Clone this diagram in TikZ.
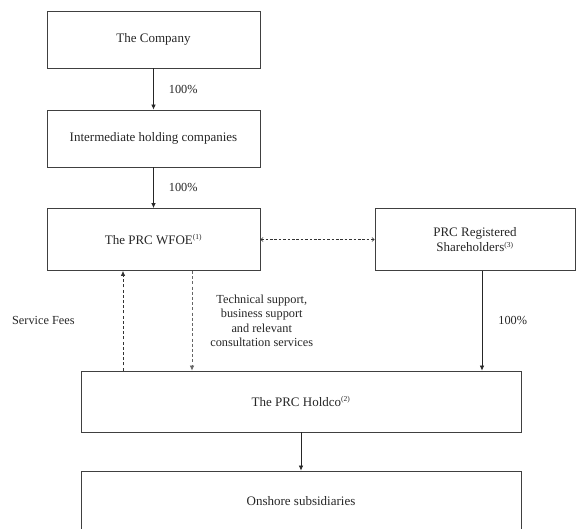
\documentclass[tikz,border=0pt]{standalone}
\usepackage{fontspec}
\setmainfont{Liberation Serif}
\usetikzlibrary{arrows.meta}
\tikzset{
	entity/.style={draw=black!75, line width=0.8pt, inner sep=0pt, text=black!85, align=center,
		font=\fontsize{13}{15}\selectfont},
	own/.style={draw=black!85, line width=0.7pt, -{Latex[length=5pt,width=4.6pt]}},
	flow/.style={draw=black!80, line width=0.7pt, dashed, dash pattern=on 3pt off 2.2pt, -{Latex[length=5pt,width=4.6pt]}},
	link/.style={draw=black!80, line width=0.6pt, dash pattern=on 2.6pt off 1.8pt, {Straight Barb[length=2.2pt,width=4pt]}-{Straight Barb[length=2.2pt,width=4pt]}},
	note/.style={text=black!85, align=center, inner sep=0pt, font=\fontsize{12.3}{14.3}\selectfont}
}
\newcommand{\fn}[1]{\textsuperscript{\fontsize{7.5}{7.5}\selectfont(#1)}}
\begin{document}
\begin{tikzpicture}[x=1pt, y=-1pt]
			%%%%% START %%%%%
			\clip (0, 0) rectangle (576, 528);
			
			\node[entity, minimum width=213pt, minimum height=57pt] (company) at (153.5, 39.5) {The Company};
			\node[entity, minimum width=213pt, minimum height=57pt] (inter) at (153.5, 138.5) {Intermediate holding companies};
			\node[entity, minimum width=213pt, minimum height=62pt] (wfoe) at (153.5, 239.5) {The PRC WFOE\fn{1}};
			\node[entity, minimum width=200pt, minimum height=62pt] (share) at (475, 239.5) {PRC Registered\\Shareholders\fn{3}};
			\node[entity, minimum width=440pt, minimum height=61pt] (holdco) at (301, 401.5) {The PRC Holdco\fn{2}};
			\node[entity, minimum width=440pt, minimum height=61pt] (onshore) at (301, 501.5) {Onshore subsidiaries};
			
			\draw[own] (company) -- node[note, midway, right=15pt] {100\%} (inter);
			\draw[own] (inter) -- node[note, midway, right=15pt] {100\%} (wfoe);
			
			\draw[link] (wfoe) -- (share);
			
			\draw[flow] ([xshift=-30.5pt]wfoe.south |- holdco.north) -- node[note, midway, left=48pt] {Service Fees} ([xshift=-30.5pt]wfoe.south);
			\draw[flow, draw=black!60] ([xshift=38.5pt]wfoe.south) -- node[note, midway, right=18pt] {Technical support,\\business support\\and relevant\\consultation services} ([xshift=38.5pt]wfoe.south |- holdco.north);
			
			\draw[own] ([xshift=7pt]share.south) -- node[note, midway, right=16pt] {100\%} ([xshift=7pt]share.south |- holdco.north);
			
			\draw[own] (holdco) -- (onshore);
			%%%%% END %%%%%
\end{tikzpicture}
\end{document}
